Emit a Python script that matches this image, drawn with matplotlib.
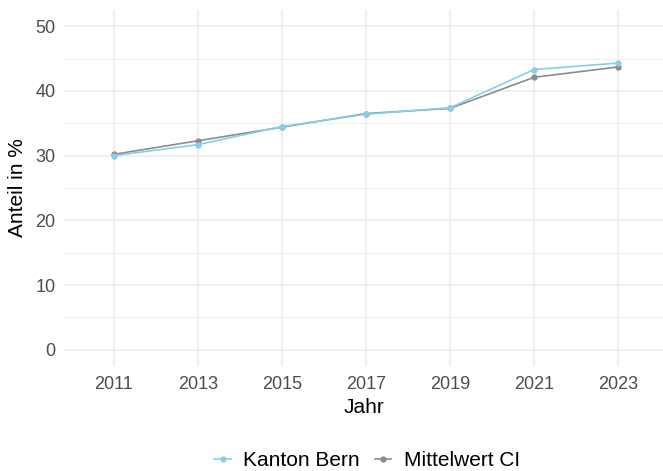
import matplotlib
matplotlib.use("Agg")
import matplotlib.pyplot as plt
from matplotlib.lines import Line2D

years = ["2011", "2013", "2015", "2017", "2019", "2021", "2023"]
kanton_bern = [30.0, 31.7, 34.5, 36.4, 37.4, 43.3, 44.3]
mittelwert_ci = [30.2, 32.3, 34.4, 36.5, 37.3, 42.1, 43.7]
y_ticks = [0, 10, 20, 30, 40, 50]
y_minor = [5, 15, 25, 35, 45]

blue = "#87CEEB"
grey = "#8C8C8C"

plt.rcParams['font.family'] = ['Liberation Sans', 'DejaVu Sans']

fig = plt.figure(figsize=(6.63, 4.71), dpi=100)
W, H = 663, 471
ax = fig.add_axes([64 / W, (H - 366) / H, (663 - 64) / W, (366 - 10) / H])

x = list(range(len(years)))
ax.plot(x, mittelwert_ci, color=grey, lw=1.2, marker='o', ms=3.5, zorder=3)
ax.plot(x, kanton_bern, color=blue, lw=1.2, marker='o', ms=3.5, zorder=4)

ax.set_xlim(-0.595, 6.535)
ax.set_ylim(-2.5, 52.5)
ax.set_xticks(x)
ax.set_xticklabels(years)
ax.set_yticks(y_ticks)
ax.set_yticks(y_minor, minor=True)

ax.grid(True, which='major', color='#EBEBEB', lw=1.1, zorder=0)
ax.grid(True, which='minor', axis='y', color='#EBEBEB', lw=0.6, zorder=0)
ax.set_axisbelow(True)
for s in ax.spines.values():
    s.set_visible(False)
ax.tick_params(which='both', length=0)
ax.tick_params(axis='x', labelsize=13, labelcolor='#4D4D4D', pad=7)
ax.tick_params(axis='y', labelsize=13, labelcolor='#4D4D4D', pad=6)

ax.set_xlabel("Jahr", fontsize=15, color='black', labelpad=4)
ax.set_ylabel("Anteil in %", fontsize=15, color='black', labelpad=6)

handles = [Line2D([0], [0], color=blue, lw=1.2, marker='o', ms=3.5),
           Line2D([0], [0], color=grey, lw=1.2, marker='o', ms=3.5)]
fig.legend(handles, ["Kanton Bern", "Mittelwert CI"], loc='center',
           bbox_to_anchor=(367 / W, 1 - 461 / H), ncol=2, frameon=False,
           fontsize=15, handlelength=0.8, handletextpad=0.6, columnspacing=0.7)

fig.savefig("out.png", dpi=100)
